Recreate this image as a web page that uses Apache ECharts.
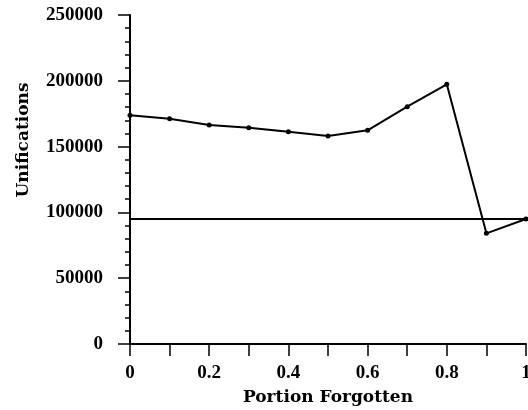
<!DOCTYPE html>
<html>
<head>
<meta charset="utf-8">
<script src="https://cdn.jsdelivr.net/npm/echarts@6/dist/echarts.min.js"></script>
<style>html,body{margin:0;padding:0;background:#fff}#c{width:528px;height:410px}</style>
</head>
<body>
<div id="c"></div>
<script>
var portions = [0, 0.1, 0.2, 0.3, 0.4, 0.5, 0.6, 0.7, 0.8, 0.9, 1.0];
var unifications = [173800, 171200, 166400, 164400, 161300, 158100, 162400, 180300, 197300, 84100, 95000];
var baselineValue = 95000;
var yTicks = [0, 50000, 100000, 150000, 200000, 250000];
var xTickLabels = ['0', '0.2', '0.4', '0.6', '0.8', '1'];

var tickFont = 'Liberation Serif';
var nameFont = 'DejaVu Serif';
var chart = echarts.init(document.getElementById('c'), null, {renderer: 'canvas'});
chart.setOption({
  animation: false,
  backgroundColor: '#fff',
  grid: {left: 130, right: 2, top: 15, bottom: 66, containLabel: false, outerBoundsMode: 'none'},
  xAxis: {
    type: 'value', min: 0, max: 1, interval: 0.2,
    name: 'Portion Forgotten', nameLocation: 'middle', nameGap: 45,
    nameTextStyle: {fontFamily: nameFont, fontWeight: 'bold', fontSize: 17, color: '#000'},
    axisLine: {show: true, onZero: false, lineStyle: {color: '#000', width: 2}},
    axisTick: {show: true, inside: false, length: 12, lineStyle: {color: '#000', width: 1.5}},
    minorTick: {show: true, splitNumber: 2, length: 12, lineStyle: {color: '#000', width: 1.5}},
    splitLine: {show: false},
    axisLabel: {
      margin: 20, color: '#000', fontFamily: tickFont, fontWeight: 'bold', fontSize: 19,
      showMaxLabel: true, showMinLabel: true, hideOverlap: false,
      formatter: function (v) { return xTickLabels[Math.round(v / 0.2)]; }
    }
  },
  yAxis: {
    type: 'value', min: yTicks[0], max: yTicks[yTicks.length - 1], interval: 50000,
    axisLine: {show: true, onZero: false, lineStyle: {color: '#000', width: 2}},
    axisTick: {show: true, inside: false, length: 12, lineStyle: {color: '#000', width: 1.5}},
    minorTick: {show: true, splitNumber: 5, length: 5, lineStyle: {color: '#000', width: 1.5}},
    splitLine: {show: false},
    axisLabel: {
      margin: 27, color: '#000', fontFamily: tickFont, fontWeight: 'bold', fontSize: 19,
      formatter: function (v) { return String(v); }
    }
  },
  graphic: [{
    type: 'text', x: 24, y: 140, rotation: Math.PI / 2,
    style: {text: 'Unifications', textAlign: 'center', textVerticalAlign: 'middle',
      font: 'bold 17px "DejaVu Serif"', fill: '#000'}
  }],
  series: [{
    type: 'line',
    data: portions.map(function (p, i) { return [p, unifications[i]]; }),
    symbol: 'circle', symbolSize: 5,
    itemStyle: {color: '#000'},
    lineStyle: {color: '#000', width: 2},
    markLine: {
      silent: true, symbol: ['none', 'none'], label: {show: false},
      lineStyle: {color: '#000', width: 2, type: 'solid'},
      data: [{yAxis: baselineValue}]
    }
  }]
});
</script>
</body>
</html>
